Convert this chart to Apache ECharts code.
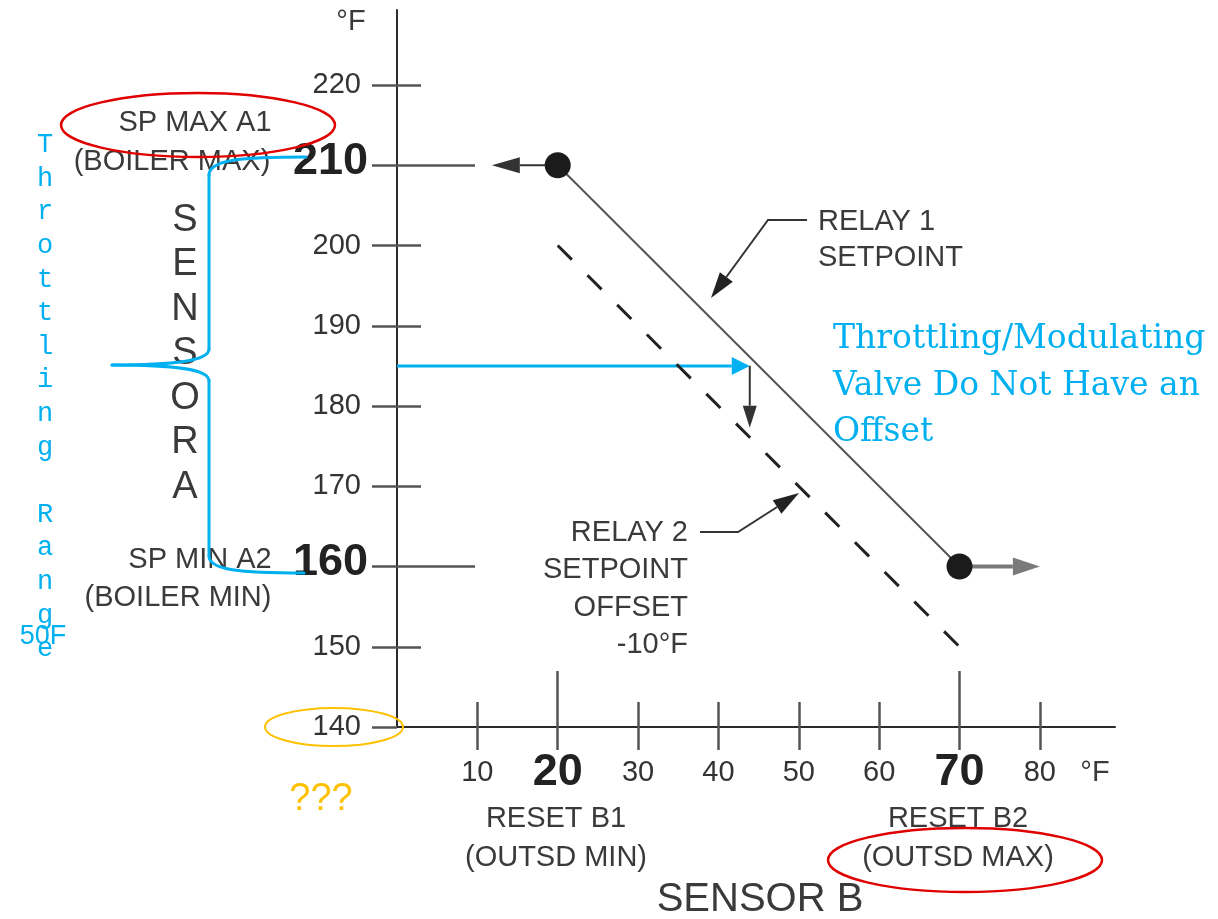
<!DOCTYPE html>
<html>
<head>
<meta charset="utf-8">
<title>Reset curve</title>
<script src="https://cdn.jsdelivr.net/npm/echarts@6/dist/echarts.min.js"></script>
<style>
  html, body { margin: 0; padding: 0; background: #fff; }
  #chart { width: 1218px; height: 919px; }
</style>
</head>
<body>
<div id="chart"></div>
<script>
// sensor B (outdoor) on x, sensor A (boiler water) on y
const resetOutdoor = [20, 70];        // reset B1, reset B2
const relay1Setpoint = [210, 160];    // SP max A1, SP min A2
const relay2Setpoint = [200, 150];    // offset -10°F
const xTickValues = [10, 20, 30, 40, 50, 60, 70, 80];
const yTickValues = [140, 150, 160, 170, 180, 190, 200, 210, 220];
const xBoldTicks = [20, 70];
const yBoldTicks = [160, 210];
const limitArrowEnds = [11.8, 80];    // where the flat end arrows stop
const readTemp = 185;                 // blue reading
const readOutdoor = 43.9;             // where it meets relay 1
const readDrop = 177.3;               // down arrow tip

const font = "'Liberation Sans', Arial, sans-serif";
const blue = '#00b0f0';
const ink = '#3a3a3a';
const xMax = 89.35;
const yMax = 229.35;

const chart = echarts.init(document.getElementById('chart'));

function xAxisOf(extra) {
  return Object.assign({
    type: 'value', min: 0, max: xMax, position: 'bottom',
    axisLine: { show: false, onZero: false },
    axisLabel: { show: false },
    splitLine: { show: false },
    axisTick: { show: false }
  }, extra);
}
function yAxisOf(extra) {
  return Object.assign({
    type: 'value', min: 140, max: yMax, position: 'left',
    axisLine: { show: false, onZero: false },
    axisLabel: { show: false },
    splitLine: { show: false },
    axisTick: { show: false }
  }, extra);
}
const tickLine = { color: '#555', width: 2.5 };
const plainX = xTickValues.filter(v => !xBoldTicks.includes(v));
const plainY = yTickValues.filter(v => !yBoldTicks.includes(v) && v !== 140);

// per-arrow look, same order as arrowData
const arrowLook = [
  { color: '#333', width: 2, head: 28, half: 8 },
  { color: '#7a7a7a', width: 4, head: 27, half: 9 },
  { color: blue, width: 3, head: 18, half: 9 },
  { color: '#333', width: 2, head: 22, half: 7 }
];
const arrowData = [
  [resetOutdoor[0], relay1Setpoint[0], limitArrowEnds[0], relay1Setpoint[0]],
  [resetOutdoor[1], relay1Setpoint[1], limitArrowEnds[1], relay1Setpoint[1]],
  [0, readTemp, readOutdoor, readTemp],
  [readOutdoor, readTemp, readOutdoor, readDrop]
];

function headPoints(from, tip, len, half) {
  const dx = tip[0] - from[0], dy = tip[1] - from[1];
  const d = Math.sqrt(dx * dx + dy * dy) || 1;
  const ux = dx / d, uy = dy / d;
  const bx = tip[0] - ux * len, by = tip[1] - uy * len;
  return {
    base: [bx, by],
    points: [tip, [bx - uy * half, by + ux * half], [bx + uy * half, by - ux * half]]
  };
}

function renderArrow(params, api) {
  const a = api.coord([api.value(0), api.value(1)]);
  const b = api.coord([api.value(2), api.value(3)]);
  const look = arrowLook[params.dataIndex];
  const h = headPoints(a, b, look.head, look.half);
  return {
    type: 'group',
    children: [
      { type: 'line', shape: { x1: a[0], y1: a[1], x2: h.base[0], y2: h.base[1] },
        style: { stroke: look.color, lineWidth: look.width } },
      { type: 'polygon', shape: { points: h.points }, style: { fill: look.color } }
    ]
  };
}

function txt(text, x, y, size, extra) {
  return {
    type: 'text', x: x, y: y, z: 10,
    style: Object.assign({
      text: text, fontFamily: font, fontSize: size, fill: ink,
      align: 'center', verticalAlign: 'middle'
    }, extra || {})
  };
}

function leader(points) {
  const n = points.length;
  const h = headPoints(points[n - 2], points[n - 1], 26, 8);
  const pts = points.slice(0, n - 1).concat([h.base]);
  return [
    { type: 'polyline', z: 10, shape: { points: pts }, style: { stroke: '#333', lineWidth: 2, fill: null } },
    { type: 'polygon', z: 10, shape: { points: h.points }, style: { fill: '#222' } }
  ];
}

// blue brace next to sensor A
const braceStyle = { stroke: blue, lineWidth: 3, fill: null, lineCap: 'round' };
function curve(x1, y1, c1x, c1y, c2x, c2y, x2, y2) {
  return { type: 'bezierCurve', z: 11, style: braceStyle,
    shape: { x1: x1, y1: y1, cpx1: c1x, cpy1: c1y, cpx2: c2x, cpy2: c2y, x2: x2, y2: y2 } };
}
function seg(x1, y1, x2, y2) {
  return { type: 'line', z: 11, style: braceStyle, shape: { x1: x1, y1: y1, x2: x2, y2: y2 } };
}
const brace = [
  curve(306, 157, 245, 157, 209, 159, 209, 175),
  seg(209, 175, 209, 349),
  curve(209, 349, 209, 361, 175, 365, 112, 365),
  curve(112, 365, 175, 365, 209, 369, 209, 381),
  seg(209, 381, 209, 556),
  curve(209, 556, 209, 570, 240, 573, 304, 573)
];

const graphics = [
  txt('°F', 351, 22, 29),
  txt('°F', 1095, 773, 29),
  txt('SP MAX A1', 195, 123, 29),
  txt('(BOILER MAX)', 172, 162, 29),
  txt('SP MIN A2', 200, 560, 29),
  txt('(BOILER MIN)', 178, 598, 29),
  txt('S\nE\nN\nS\nO\nR\nA', 185, 354, 38, { lineHeight: 44.5 }),
  txt('RELAY 1\nSETPOINT', 818, 240, 29, { align: 'left', lineHeight: 36 }),
  txt('RELAY 2\nSETPOINT\nOFFSET\n-10°F', 688, 589, 29, { align: 'right', lineHeight: 37.3 }),
  txt('RESET B1\n(OUTSD MIN)', 556, 838, 29, { lineHeight: 39 }),
  txt('RESET B2\n(OUTSD MAX)', 958, 838, 29, { lineHeight: 39 }),
  txt('SENSOR B', 760, 900, 40),
  txt('???', 321, 800, 38, { fill: '#ffc000' }),
  txt('50F', 43, 637, 27, { fill: blue }),
  txt('T\nh\nr\no\nt\nt\nl\ni\nn\ng\n \nR\na\nn\ng\ne', 45, 397, 27,
      { fill: blue, fontFamily: "'Liberation Mono', 'DejaVu Sans Mono', monospace", lineHeight: 33.6 }),
  txt('Throttling/Modulating\nValve Do Not Have an\nOffset', 833, 386, 33,
      { fill: blue, align: 'left', fontFamily: "'DejaVu Serif', serif", lineHeight: 46.5 }),
  { type: 'ellipse', z: 11, shape: { cx: 198, cy: 125, rx: 137, ry: 32 },
    style: { stroke: '#e00000', lineWidth: 2.5, fill: null } },
  { type: 'ellipse', z: 11, shape: { cx: 965, cy: 860, rx: 137, ry: 32 },
    style: { stroke: '#e00000', lineWidth: 2.5, fill: null } },
  { type: 'ellipse', z: 11, shape: { cx: 334, cy: 727, rx: 69, ry: 19 },
    style: { stroke: '#ffc000', lineWidth: 2, fill: null } }
].concat(
  brace,
  leader([[807, 220], [768, 220], [711, 298]]),
  leader([[700, 532], [738, 532], [799, 493]])
);

const option = {
  animation: false,
  backgroundColor: '#fff',
  grid: { left: 397, right: 103, top: 10, bottom: 192, containLabel: false },
  xAxis: [
    xAxisOf({
      axisLine: { show: true, onZero: false, lineStyle: { color: '#2b2b2b', width: 2 } },
      axisTick: { show: true, customValues: xTickValues, length: 23, lineStyle: tickLine },
      axisLabel: {
        show: true, customValues: xTickValues, margin: 46, verticalAlign: 'middle',
        formatter: v => xBoldTicks.includes(v) ? '{b|' + v + '}' : '{n|' + v + '}',
        rich: {
          n: { fontFamily: font, fontSize: 29, color: '#333' },
          b: { fontFamily: font, fontSize: 45, fontWeight: 'bold', color: '#222' }
        }
      }
    }),
    xAxisOf({ axisTick: { show: true, inside: true, customValues: plainX, length: 25, lineStyle: tickLine } }),
    xAxisOf({ axisTick: { show: true, inside: true, customValues: xBoldTicks, length: 56, lineStyle: tickLine } })
  ],
  yAxis: [
    yAxisOf({
      axisLine: { show: true, onZero: false, lineStyle: { color: '#2b2b2b', width: 2 } },
      axisTick: { show: true, customValues: yTickValues, length: 25, lineStyle: tickLine },
      axisLabel: {
        show: true, customValues: yTickValues, margin: 29,
        formatter: v => yBoldTicks.includes(v) ? '{b|' + v + '}' : '{n|' + v + '}',
        rich: {
          n: { fontFamily: font, fontSize: 29, color: '#333', padding: [0, 7, 0, 0] },
          b: { fontFamily: font, fontSize: 45, fontWeight: 'bold', color: '#222', padding: [0, 0, 8, 0] }
        }
      }
    }),
    yAxisOf({ axisTick: { show: true, inside: true, customValues: plainY, length: 24, lineStyle: tickLine } }),
    yAxisOf({ axisTick: { show: true, inside: true, customValues: yBoldTicks, length: 78, lineStyle: tickLine } })
  ],
  graphic: graphics,
  series: [
    {
      name: 'Relay 2 setpoint', type: 'line', symbol: 'none',
      data: resetOutdoor.map((x, i) => [x, relay2Setpoint[i]]),
      lineStyle: { color: '#222', width: 3, type: [20, 22] }
    },
    {
      name: 'Relay 1 setpoint', type: 'line', symbol: 'none',
      data: resetOutdoor.map((x, i) => [x, relay1Setpoint[i]]),
      lineStyle: { color: '#555', width: 2 }
    },
    {
      name: 'arrows', type: 'custom', clip: false,
      renderItem: renderArrow,
      encode: { x: [0, 2], y: [1, 3] },
      data: arrowData
    },
    {
      name: 'reset points', type: 'scatter', symbolSize: 26, z: 5,
      itemStyle: { color: '#1b1b1b', opacity: 1 },
      data: resetOutdoor.map((x, i) => [x, relay1Setpoint[i]])
    }
  ]
};

chart.setOption(option);
</script>
</body>
</html>
